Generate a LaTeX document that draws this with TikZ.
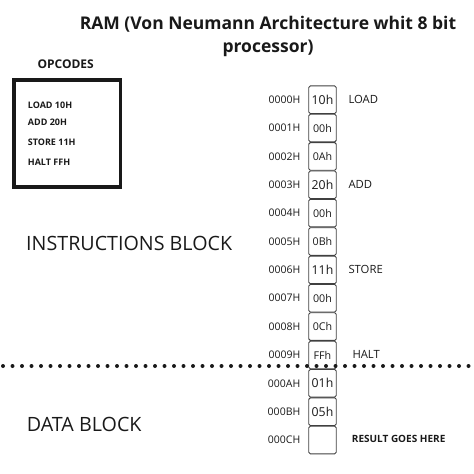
\documentclass[tikz,border=0pt]{standalone}
\usepackage{fontspec}
\setmainfont{Open Sans}
\begin{document}
\begin{tikzpicture}[x=1pt,y=-1pt,
  txt/.style={inner sep=0pt, text=black!90},
  addr/.style={txt, anchor=east, font=\fontsize{10.5}{12}\selectfont},
  instr/.style={txt, anchor=west, font=\fontsize{11.3}{13}\selectfont},
  cell/.style={draw=black!75, line width=0.9pt, rounded corners=1.5pt, minimum width=27.5pt, minimum height=27.6pt, inner sep=0pt, text=black!90},
  big/.style={font=\fontsize{12.3}{14}\selectfont},
  small/.style={font=\fontsize{10.7}{13}\selectfont},
  opc/.style={txt, anchor=west, font=\bfseries\fontsize{9}{11}\selectfont},
  block/.style={txt, anchor=west, font=\fontsize{19.7}{23}\selectfont},
  dotline/.style={line width=4pt, line cap=round, dash pattern=on 0pt off 9.5pt, black!90}
]
\useasboundingbox (0,0) rectangle (474,474);
% title
\node[txt, font=\bfseries\fontsize{17.5}{23}\selectfont, align=center] (title) at (268,36.3) {RAM (Von Neumann Architecture whit 8 bit\\processor)};
% opcodes
\node[txt, font=\bfseries\fontsize{12}{14}\selectfont] (opt) at (65.7,64.3) {OPCODES};
\node[draw=black!90, line width=3.5pt, minimum width=106.5pt, minimum height=107.2pt, inner sep=0pt] (opbox) at (67.3,133.4) {};
\node[opc] (o1) at (27.7,105) {LOAD 10H};
\node[opc] (o2) at (27.7,122.7) {ADD 20H};
\node[opc] (o3) at (27.7,142.3) {STORE 11H};
\node[opc] (o4) at (27.7,162.3) {HALT FFH};
% blocks
\node[block] (ib) at (26,243.3) {INSTRUCTIONS BLOCK};
\node[block] (db) at (26.7,424) {DATA BLOCK};
% memory cells
\foreach \i/\a/\v/\s in {0/0000H/10h/big,1/0001H/00h/small,2/0002H/0Ah/small,3/0003H/20h/big,4/0004H/00h/small,5/0005H/0Bh/small,6/0006H/11h/big,7/0007H/00h/small,8/0008H/0Ch/small,9/0009H/FFh/small,10/000AH/01h/big,11/000BH/05h/big,12/000CH//small}{
  \node[cell,\s] (m\i) at (322.5,{99.7+28.36*\i}) {\v};
  \node[addr] (a\i) at (300.5,{99.7+28.36*\i}) {\a};
}
% instruction labels
\node[instr] (l0) at (348.3,99.7) {LOAD};
\node[instr] (l3) at (348.3,184.8) {ADD};
\node[instr] (l6) at (348.3,269.9) {STORE};
\node[instr] (l9) at (352.3,354.9) {HALT};
\node[txt, anchor=west, font=\bfseries\fontsize{10}{12}\selectfont] (res) at (351.7,439.3) {RESULT GOES HERE};
% separator
\coordinate (dl) at (3,366);
\coordinate (dr) at (474,366);
\draw[dotline] (dl) -- (dr);
\end{tikzpicture}
\end{document}
